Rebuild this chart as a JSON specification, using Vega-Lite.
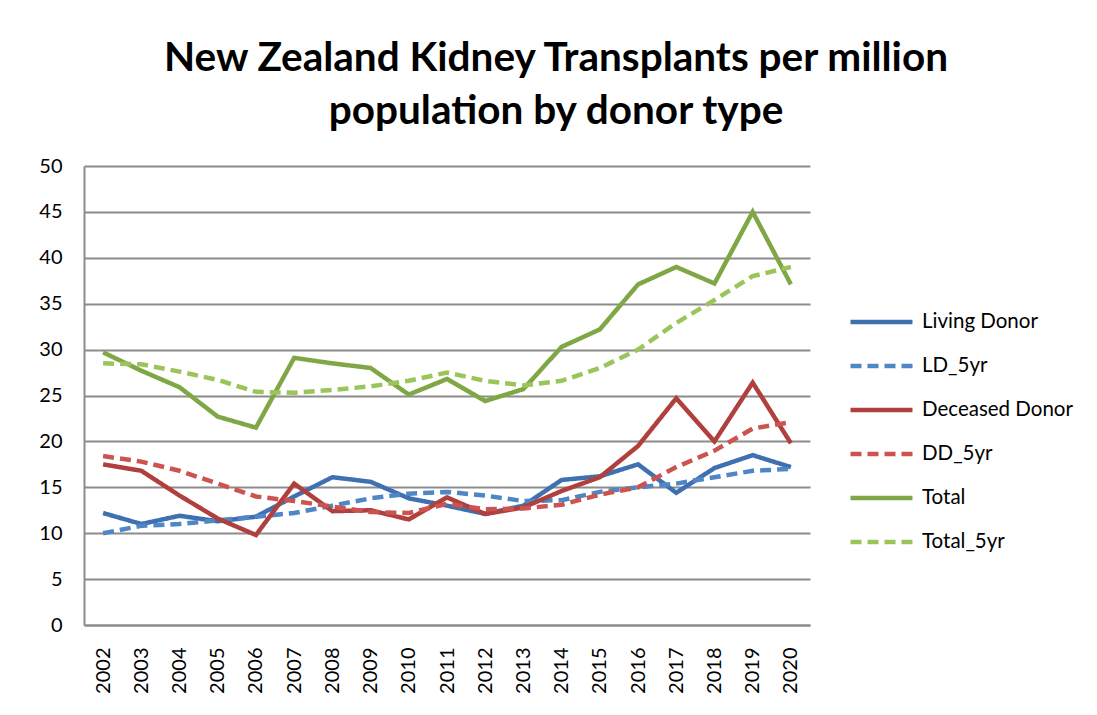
{
  "$schema": "https://vega.github.io/schema/vega-lite/v6.json",
  "autosize": "none",
  "width": 726,
  "height": 459,
  "padding": {"left": 84, "top": 166, "right": 287, "bottom": 90},
  "background": "white",
  "title": {
    "text": ["New Zealand Kidney Transplants per million", "population by donor type"],
    "font": "Lato",
    "fontSize": 40.5,
    "fontWeight": "bold",
    "color": "#000000",
    "lineHeight": 53,
    "anchor": "middle",
    "frame": "group",
    "dx": 109,
    "dy": 50,
    "baseline": "bottom",
    "offset": 33
  },
  "data": {
    "values": [
      {"Year": "2002", "series": "Living Donor", "value": 12.2},
      {"Year": "2003", "series": "Living Donor", "value": 11.0},
      {"Year": "2004", "series": "Living Donor", "value": 11.9},
      {"Year": "2005", "series": "Living Donor", "value": 11.3},
      {"Year": "2006", "series": "Living Donor", "value": 11.8},
      {"Year": "2007", "series": "Living Donor", "value": 14.0},
      {"Year": "2008", "series": "Living Donor", "value": 16.1},
      {"Year": "2009", "series": "Living Donor", "value": 15.6},
      {"Year": "2010", "series": "Living Donor", "value": 13.8},
      {"Year": "2011", "series": "Living Donor", "value": 13.0},
      {"Year": "2012", "series": "Living Donor", "value": 12.1},
      {"Year": "2013", "series": "Living Donor", "value": 13.0},
      {"Year": "2014", "series": "Living Donor", "value": 15.8},
      {"Year": "2015", "series": "Living Donor", "value": 16.2},
      {"Year": "2016", "series": "Living Donor", "value": 17.5},
      {"Year": "2017", "series": "Living Donor", "value": 14.4},
      {"Year": "2018", "series": "Living Donor", "value": 17.1},
      {"Year": "2019", "series": "Living Donor", "value": 18.5},
      {"Year": "2020", "series": "Living Donor", "value": 17.2},
      {"Year": "2002", "series": "LD_5yr", "value": 10.0},
      {"Year": "2003", "series": "LD_5yr", "value": 10.8},
      {"Year": "2004", "series": "LD_5yr", "value": 11.0},
      {"Year": "2005", "series": "LD_5yr", "value": 11.4},
      {"Year": "2006", "series": "LD_5yr", "value": 11.8},
      {"Year": "2007", "series": "LD_5yr", "value": 12.2},
      {"Year": "2008", "series": "LD_5yr", "value": 13.0},
      {"Year": "2009", "series": "LD_5yr", "value": 13.8},
      {"Year": "2010", "series": "LD_5yr", "value": 14.3},
      {"Year": "2011", "series": "LD_5yr", "value": 14.5},
      {"Year": "2012", "series": "LD_5yr", "value": 14.1},
      {"Year": "2013", "series": "LD_5yr", "value": 13.5},
      {"Year": "2014", "series": "LD_5yr", "value": 13.6},
      {"Year": "2015", "series": "LD_5yr", "value": 14.5},
      {"Year": "2016", "series": "LD_5yr", "value": 15.0},
      {"Year": "2017", "series": "LD_5yr", "value": 15.4},
      {"Year": "2018", "series": "LD_5yr", "value": 16.1},
      {"Year": "2019", "series": "LD_5yr", "value": 16.8},
      {"Year": "2020", "series": "LD_5yr", "value": 17.0},
      {"Year": "2002", "series": "Deceased Donor", "value": 17.5},
      {"Year": "2003", "series": "Deceased Donor", "value": 16.8},
      {"Year": "2004", "series": "Deceased Donor", "value": 14.1},
      {"Year": "2005", "series": "Deceased Donor", "value": 11.6},
      {"Year": "2006", "series": "Deceased Donor", "value": 9.8},
      {"Year": "2007", "series": "Deceased Donor", "value": 15.4},
      {"Year": "2008", "series": "Deceased Donor", "value": 12.4},
      {"Year": "2009", "series": "Deceased Donor", "value": 12.5},
      {"Year": "2010", "series": "Deceased Donor", "value": 11.5},
      {"Year": "2011", "series": "Deceased Donor", "value": 13.9},
      {"Year": "2012", "series": "Deceased Donor", "value": 12.1},
      {"Year": "2013", "series": "Deceased Donor", "value": 12.8},
      {"Year": "2014", "series": "Deceased Donor", "value": 14.6},
      {"Year": "2015", "series": "Deceased Donor", "value": 16.1},
      {"Year": "2016", "series": "Deceased Donor", "value": 19.5},
      {"Year": "2017", "series": "Deceased Donor", "value": 24.7},
      {"Year": "2018", "series": "Deceased Donor", "value": 20.0},
      {"Year": "2019", "series": "Deceased Donor", "value": 26.4},
      {"Year": "2020", "series": "Deceased Donor", "value": 19.8},
      {"Year": "2002", "series": "DD_5yr", "value": 18.4},
      {"Year": "2003", "series": "DD_5yr", "value": 17.8},
      {"Year": "2004", "series": "DD_5yr", "value": 16.8},
      {"Year": "2005", "series": "DD_5yr", "value": 15.4},
      {"Year": "2006", "series": "DD_5yr", "value": 14.0},
      {"Year": "2007", "series": "DD_5yr", "value": 13.5},
      {"Year": "2008", "series": "DD_5yr", "value": 12.9},
      {"Year": "2009", "series": "DD_5yr", "value": 12.3},
      {"Year": "2010", "series": "DD_5yr", "value": 12.2},
      {"Year": "2011", "series": "DD_5yr", "value": 13.2},
      {"Year": "2012", "series": "DD_5yr", "value": 12.6},
      {"Year": "2013", "series": "DD_5yr", "value": 12.7},
      {"Year": "2014", "series": "DD_5yr", "value": 13.1},
      {"Year": "2015", "series": "DD_5yr", "value": 14.2},
      {"Year": "2016", "series": "DD_5yr", "value": 15.0},
      {"Year": "2017", "series": "DD_5yr", "value": 17.2},
      {"Year": "2018", "series": "DD_5yr", "value": 19.0},
      {"Year": "2019", "series": "DD_5yr", "value": 21.4},
      {"Year": "2020", "series": "DD_5yr", "value": 22.1},
      {"Year": "2002", "series": "Total", "value": 29.7},
      {"Year": "2003", "series": "Total", "value": 27.7},
      {"Year": "2004", "series": "Total", "value": 25.9},
      {"Year": "2005", "series": "Total", "value": 22.7},
      {"Year": "2006", "series": "Total", "value": 21.5},
      {"Year": "2007", "series": "Total", "value": 29.1},
      {"Year": "2008", "series": "Total", "value": 28.5},
      {"Year": "2009", "series": "Total", "value": 28.0},
      {"Year": "2010", "series": "Total", "value": 25.1},
      {"Year": "2011", "series": "Total", "value": 26.8},
      {"Year": "2012", "series": "Total", "value": 24.4},
      {"Year": "2013", "series": "Total", "value": 25.7},
      {"Year": "2014", "series": "Total", "value": 30.3},
      {"Year": "2015", "series": "Total", "value": 32.2},
      {"Year": "2016", "series": "Total", "value": 37.1},
      {"Year": "2017", "series": "Total", "value": 39.0},
      {"Year": "2018", "series": "Total", "value": 37.2},
      {"Year": "2019", "series": "Total", "value": 45.0},
      {"Year": "2020", "series": "Total", "value": 37.1},
      {"Year": "2002", "series": "Total_5yr", "value": 28.5},
      {"Year": "2003", "series": "Total_5yr", "value": 28.4},
      {"Year": "2004", "series": "Total_5yr", "value": 27.6},
      {"Year": "2005", "series": "Total_5yr", "value": 26.7},
      {"Year": "2006", "series": "Total_5yr", "value": 25.4},
      {"Year": "2007", "series": "Total_5yr", "value": 25.3},
      {"Year": "2008", "series": "Total_5yr", "value": 25.6},
      {"Year": "2009", "series": "Total_5yr", "value": 26.0},
      {"Year": "2010", "series": "Total_5yr", "value": 26.6},
      {"Year": "2011", "series": "Total_5yr", "value": 27.5},
      {"Year": "2012", "series": "Total_5yr", "value": 26.6},
      {"Year": "2013", "series": "Total_5yr", "value": 26.1},
      {"Year": "2014", "series": "Total_5yr", "value": 26.6},
      {"Year": "2015", "series": "Total_5yr", "value": 28.0},
      {"Year": "2016", "series": "Total_5yr", "value": 30.0},
      {"Year": "2017", "series": "Total_5yr", "value": 32.9},
      {"Year": "2018", "series": "Total_5yr", "value": 35.4},
      {"Year": "2019", "series": "Total_5yr", "value": 38.0},
      {"Year": "2020", "series": "Total_5yr", "value": 39.0}
    ]
  },
  "mark": {"type": "line", "strokeWidth": 4.5, "strokeCap": "butt", "strokeJoin": "miter", "clip": false},
  "encoding": {
    "x": {
      "field": "Year",
      "type": "ordinal",
      "scale": {"type": "point", "padding": 0.5},
      "axis": {
        "title": null,
        "labelAngle": -90,
        "labelAlign": "right",
        "labelBaseline": "middle",
        "labelPadding": 22,
        "ticks": false,
        "grid": false,
        "domain": true,
        "domainColor": "#8c8c8c",
        "domainWidth": 2,
        "labelFont": "Lato",
        "labelFontSize": 20,
        "labelColor": "#000000"
      }
    },
    "y": {
      "field": "value",
      "type": "quantitative",
      "scale": {"domain": [0, 50], "nice": false, "zero": true},
      "axis": {
        "title": null,
        "values": [0, 5, 10, 15, 20, 25, 30, 35, 40, 45, 50],
        "ticks": false,
        "grid": true,
        "gridColor": "#8c8c8c",
        "gridWidth": 2,
        "domain": true,
        "domainColor": "#8c8c8c",
        "domainWidth": 2,
        "labelPadding": 22,
        "labelFont": "Lato",
        "labelFontSize": 20,
        "labelColor": "#000000"
      }
    },
    "color": {
      "field": "series",
      "type": "nominal",
      "sort": ["Living Donor", "LD_5yr", "Deceased Donor", "DD_5yr", "Total", "Total_5yr"],
      "scale": {
        "domain": ["Living Donor", "LD_5yr", "Deceased Donor", "DD_5yr", "Total", "Total_5yr"],
        "range": ["#3f71b0", "#4f86c6", "#b0403d", "#cb5450", "#80a745", "#9bc55a"]
      },
      "legend": {
        "title": null,
        "orient": "none",
        "legendX": 764,
        "legendY": 144,
        "padding": 0,
        "symbolType": "stroke",
        "symbolSize": 3844,
        "symbolStrokeWidth": 4.5,
        "clipHeight": 24,
        "rowPadding": 20,
        "labelOffset": 7,
        "labelFont": "Lato",
        "labelFontSize": 20.5,
        "labelColor": "#000000"
      }
    },
    "strokeDash": {
      "field": "series",
      "type": "nominal",
      "sort": ["Living Donor", "LD_5yr", "Deceased Donor", "DD_5yr", "Total", "Total_5yr"],
      "scale": {
        "domain": ["Living Donor", "LD_5yr", "Deceased Donor", "DD_5yr", "Total", "Total_5yr"],
        "range": [[1, 0], [11, 6], [1, 0], [11, 6], [1, 0], [11, 6]]
      },
      "legend": null
    }
  },
  "config": {
    "view": {"stroke": null},
    "font": "Lato"
  }
}
